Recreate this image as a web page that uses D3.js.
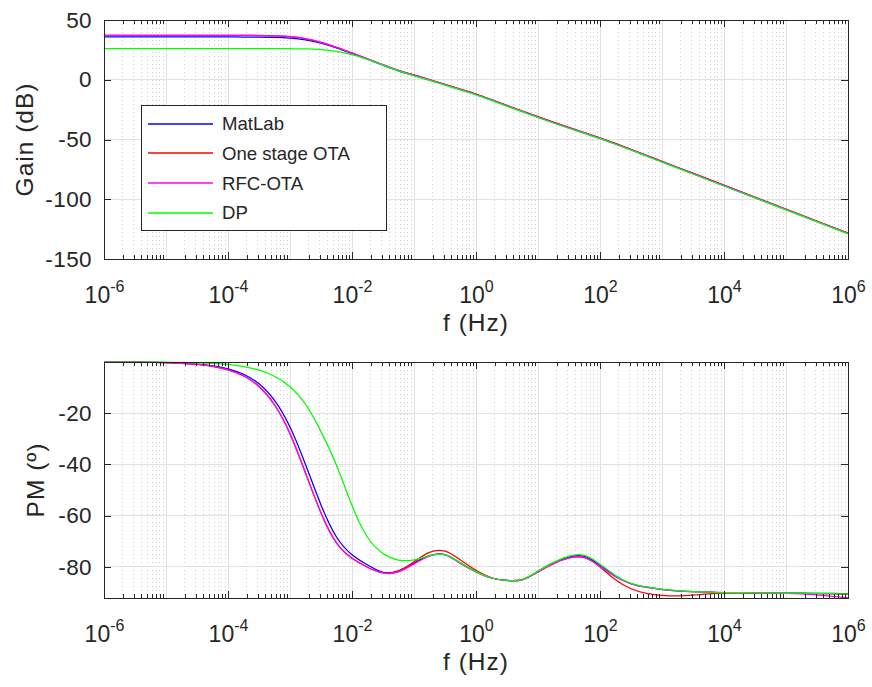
<!DOCTYPE html>
<html>
<head>
<meta charset="utf-8">
<script src="https://cdn.jsdelivr.net/npm/d3@7"></script>
<style>
  body { margin: 0; background: #fff; }
  svg { display: block; }
  text { font-family: "Liberation Sans", Arial, Helvetica, sans-serif; fill: #262626; }
</style>
</head>
<body>
<svg id="chart" width="872" height="687"></svg>
<script>
// Frequency points, as powers of ten (Hz)
const freqExp = [-6, -5.75, -5.5, -5.25, -5, -4.75, -4.5, -4.25, -4, -3.75, -3.5, -3.25,
  -3, -2.75, -2.5, -2.25, -2, -1.75, -1.5, -1.25, -1, -0.75, -0.5, -0.25,
  0, 0.25, 0.5, 0.75, 1, 1.25, 1.5, 1.75, 2, 2.25, 2.5, 2.75, 3, 3.25, 3.5, 3.75,
  4, 4.25, 4.5, 4.75, 5, 5.25, 5.5, 5.75, 6];

const seriesNames = ["MatLab", "One stage OTA", "RFC-OTA", "DP"];
const seriesColors = ["#0000ff", "#ff0000", "#ff00ff", "#00ff00"];

// Open-loop gain (dB)
const gainMatLab = [35.8, 35.8, 35.8, 35.8, 35.8, 35.8, 35.8, 35.8, 35.8, 35.77, 35.7, 35.5,
  34.9, 33.45, 30.7, 26.7, 22.0, 17.2, 12.2, 7.5, 3.6, -0.2, -4.2, -8.2,
  -12.3, -17.0, -21.8, -26.6, -31.3, -35.9, -40.3, -44.6, -49.0, -53.7, -58.6, -63.6, -68.6, -73.6, -78.6, -83.6,
  -88.6, -93.6, -98.6, -103.6, -108.6, -113.6, -118.6, -123.6, -128.6];
const gainOTA = [37.1, 37.1, 37.1, 37.1, 37.1, 37.1, 37.1, 37.1, 37.1, 37.07, 37.0, 36.7,
  36.0, 34.3, 31.2, 27.1, 22.4, 17.5, 12.5, 7.8, 4.0, 0.2, -3.8, -7.8,
  -11.9, -16.6, -21.4, -26.2, -30.9, -35.5, -39.9, -44.2, -48.6, -53.3, -58.2, -63.2, -68.2, -73.2, -78.2, -83.2,
  -88.2, -93.2, -98.2, -103.2, -108.2, -113.2, -118.2, -123.2, -128.2];
const gainRFC = [37.2, 37.2, 37.2, 37.2, 37.2, 37.2, 37.2, 37.2, 37.2, 37.17, 37.1, 36.8,
  36.1, 34.4, 31.3, 27.2, 22.5, 17.6, 12.6, 7.8, 3.8, -0.05, -4.05, -8.05,
  -12.15, -16.85, -21.65, -26.45, -31.15, -35.75, -40.15, -44.45, -48.85, -53.55, -58.45, -63.45, -68.45, -73.45, -78.45, -83.45,
  -88.45, -93.45, -98.45, -103.45, -108.45, -113.45, -118.45, -123.45, -128.5];
const gainDP = [26.1, 26.1, 26.1, 26.1, 26.1, 26.1, 26.1, 26.1, 26.1, 26.1, 26.08, 26.05,
  25.95, 25.8, 25.2, 23.75, 21.0, 17.0, 12.3, 7.4, 3.3, -0.5, -4.5, -8.5,
  -12.6, -17.3, -22.1, -26.9, -31.6, -36.2, -40.6, -44.9, -49.3, -54.0, -58.9, -63.9, -68.9, -73.9, -78.9, -83.9,
  -88.9, -93.9, -98.9, -103.9, -108.9, -113.9, -118.9, -123.9, -128.9];

// Phase (degrees)
const phaseMatLab = [-0.03, -0.05, -0.09, -0.15, -0.27, -0.49, -0.86, -1.5, -2.7, -4.8, -8.5, -15.0,
  -25.4, -40.0, -55.8, -68.3, -75.2, -79.2, -82.05, -81.5, -78.5, -75.6, -75.15, -78.5,
  -81.8, -84.3, -85.25, -84.9, -81.7, -78.4, -76.1, -75.9, -79.3, -83.5, -86.5, -87.9, -88.7, -89.3, -89.6, -89.8,
  -90.0, -90.0, -90.1, -90.1, -90.2, -90.2, -90.3, -90.3, -90.4];
const phaseOTA = [-0.03, -0.05, -0.1, -0.17, -0.3, -0.54, -0.97, -1.7, -3.1, -5.4, -9.6, -16.7,
  -28.0, -43.3, -58.9, -70.6, -76.6, -80.1, -82.3, -81.6, -78.0, -74.3, -73.85, -77.3,
  -81.3, -84.2, -85.25, -84.9, -81.9, -78.7, -76.5, -76.4, -80.0, -85.0, -88.5, -90.3, -91.1, -91.3, -91.0, -90.5,
  -90.2, -90.1, -90.2, -90.2, -90.3, -90.3, -90.4, -90.5, -90.6];
const phaseRFC = [-0.03, -0.05, -0.1, -0.17, -0.3, -0.54, -0.97, -1.7, -3.1, -5.4, -9.6, -16.7,
  -28.0, -43.3, -58.9, -70.6, -76.6, -80.1, -82.35, -81.9, -78.8, -75.8, -75.3, -78.6,
  -81.9, -84.3, -85.3, -84.9, -81.9, -78.7, -76.5, -76.3, -79.8, -83.8, -86.6, -88.0, -88.8, -89.3, -89.6, -89.8,
  -90.0, -90.0, -90.1, -90.2, -90.3, -90.5, -90.9, -91.5, -92.05];
const phaseDP = [-0.03, -0.04, -0.05, -0.08, -0.12, -0.2, -0.35, -0.6, -1.0, -1.8, -3.2, -5.6,
  -9.7, -16.5, -27.2, -40.3, -56.0, -68.4, -74.7, -77.3, -77.2, -75.6, -75.15, -78.4,
  -81.8, -84.3, -85.25, -84.8, -81.6, -78.2, -75.8, -75.5, -78.9, -83.3, -86.4, -87.8, -88.7, -89.2, -89.6, -89.8,
  -90.0, -90.0, -90.1, -90.1, -90.2, -90.2, -90.3, -90.4, -90.5];

// Axis tick values
const decadeExps = [-6, -4, -2, 0, 2, 4, 6];
const gainTicks = [-150, -100, -50, 0, 50];
const phaseTicks = [-80, -60, -40, -20];

const svg = d3.select("#chart");
const left = 104, right = 848;
const axisColor = "#262626";

const x = d3.scaleLog().domain([1e-6, 1e6]).range([left, right]);

// every decade gets major ticks/grid; 2..9 multiples get minor ones
const allDecades = d3.range(-6, 7).map(e => Math.pow(10, e));
const minorVals = [];
for (let e = -6; e < 6; e++) for (let k = 2; k <= 9; k++) minorVals.push(k * Math.pow(10, e));

function drawPanel(opts) {
  const { top, bottom, yDomain, yTicks, series, yLabel, yLabelX } = opts;
  const y = d3.scaleLinear().domain(yDomain).range([bottom, top]);
  const g = svg.append("g");

  // minor vertical grid (dotted)
  g.append("g").selectAll("line").data(minorVals).join("line")
    .attr("x1", d => x(d)).attr("x2", d => x(d))
    .attr("y1", top).attr("y2", bottom)
    .attr("stroke", "#cfcfcf").attr("stroke-width", 1)
    .attr("stroke-dasharray", "1,3")
    .attr("shape-rendering", "crispEdges");

  // major grid
  g.append("g").selectAll("line").data(allDecades).join("line")
    .attr("x1", d => x(d)).attr("x2", d => x(d))
    .attr("y1", top).attr("y2", bottom)
    .attr("stroke", "#e1e1e1").attr("stroke-width", 1)
    .attr("shape-rendering", "crispEdges");
  g.append("g").selectAll("line").data(yTicks).join("line")
    .attr("x1", left).attr("x2", right)
    .attr("y1", d => y(d)).attr("y2", d => y(d))
    .attr("stroke", "#e1e1e1").attr("stroke-width", 1)
    .attr("shape-rendering", "crispEdges");

  // data curves
  const line = d3.line()
    .x((d, i) => x(Math.pow(10, freqExp[i])))
    .y(d => y(d))
    .curve(d3.curveNatural);
  const clipId = "clip" + top;
  svg.append("clipPath").attr("id", clipId).append("rect")
    .attr("x", left).attr("y", top - 1).attr("width", right - left).attr("height", bottom - top + 2);
  const curves = g.append("g").attr("clip-path", `url(#${clipId})`);
  series.forEach((vals, i) => {
    curves.append("path").datum(vals)
      .attr("d", line)
      .attr("fill", "none")
      .attr("stroke", seriesColors[i])
      .attr("stroke-width", 1.25);
  });

  // axes: ticks point inward on all four sides
  const styleAxis = sel => {
    sel.select(".domain").remove();
    sel.selectAll(".tick line").attr("stroke", axisColor).attr("shape-rendering", "crispEdges");
  };
  const majorVals = decadeExps.map(e => Math.pow(10, e));

  const xb = g.append("g").attr("transform", `translate(0,${bottom})`)
    .call(d3.axisBottom(x).tickValues(majorVals).tickSize(-7).tickFormat(""))
    .call(styleAxis);
  g.append("g").attr("transform", `translate(0,${bottom})`)
    .call(d3.axisBottom(x).tickValues(minorVals).tickSize(-4).tickFormat(""))
    .call(styleAxis);
  g.append("g").attr("transform", `translate(0,${top})`)
    .call(d3.axisTop(x).tickValues(majorVals).tickSize(-7).tickFormat(""))
    .call(styleAxis);
  g.append("g").attr("transform", `translate(0,${top})`)
    .call(d3.axisTop(x).tickValues(minorVals).tickSize(-4).tickFormat(""))
    .call(styleAxis);

  // power-of-ten labels: "10" with a raised exponent
  xb.selectAll(".tick").append("text")
    .attr("y", 44)
    .attr("text-anchor", "middle")
    .attr("font-size", 23)
    .each(function (d) {
      const t = d3.select(this);
      t.append("tspan").text("10");
      t.append("tspan").attr("dy", -11.5).attr("font-size", 16).text(String(Math.round(Math.log10(d))));
    });

  // y labels use a plain hyphen for negative numbers
  g.append("g").attr("transform", `translate(${left},0)`)
    .call(d3.axisLeft(y).tickValues(yTicks).tickSize(-7).tickPadding(12).tickFormat(d => String(d)))
    .call(styleAxis)
    .call(s => s.selectAll(".tick text").attr("font-size", 22.5).attr("fill", axisColor)
      .attr("letter-spacing", 0.4)
      .attr("font-family", '"Liberation Sans", Arial, sans-serif'));
  g.append("g").attr("transform", `translate(${right},0)`)
    .call(d3.axisRight(y).tickValues(yTicks).tickSize(-7).tickFormat(""))
    .call(styleAxis);

  // box
  g.append("rect")
    .attr("x", left).attr("y", top)
    .attr("width", right - left).attr("height", bottom - top)
    .attr("fill", "none").attr("stroke", axisColor).attr("stroke-width", 1)
    .attr("shape-rendering", "crispEdges");

  // axis titles
  g.append("text")
    .attr("x", (left + right) / 2).attr("y", bottom + 72)
    .attr("text-anchor", "middle").attr("font-size", 24.5).attr("letter-spacing", 1)
    .text("f (Hz)");
  g.append("text")
    .attr("transform", `translate(${yLabelX},${(top + bottom) / 2}) rotate(-90)`)
    .attr("text-anchor", "middle").attr("font-size", 24.5).attr("letter-spacing", 1)
    .text(yLabel);

  return { g, y };
}

drawPanel({
  top: 20, bottom: 259, yDomain: [-150, 50], yTicks: gainTicks,
  series: [gainMatLab, gainOTA, gainRFC, gainDP], yLabel: "Gain (dB)", yLabelX: 33
});

drawPanel({
  top: 362, bottom: 598, yDomain: [-92.1, -0.03], yTicks: phaseTicks,
  series: [phaseMatLab, phaseOTA, phaseRFC, phaseDP], yLabel: "PM (º)", yLabelX: 44
});

// legend in the gain panel
const legend = svg.append("g");
legend.append("rect")
  .attr("x", 141.5).attr("y", 105.5).attr("width", 245).attr("height", 125)
  .attr("fill", "#fff").attr("stroke", axisColor).attr("stroke-width", 1);
seriesNames.forEach((name, i) => {
  const ly = 123.5 + i * 29.7;
  legend.append("line")
    .attr("x1", 148).attr("x2", 213).attr("y1", Math.round(ly)).attr("y2", Math.round(ly))
    .attr("stroke", seriesColors[i]).attr("stroke-width", 1.4);
  legend.append("text")
    .attr("x", 222).attr("y", ly).attr("dy", "0.36em")
    .attr("font-size", 18.6)
    .text(name);
});
</script>
</body>
</html>
